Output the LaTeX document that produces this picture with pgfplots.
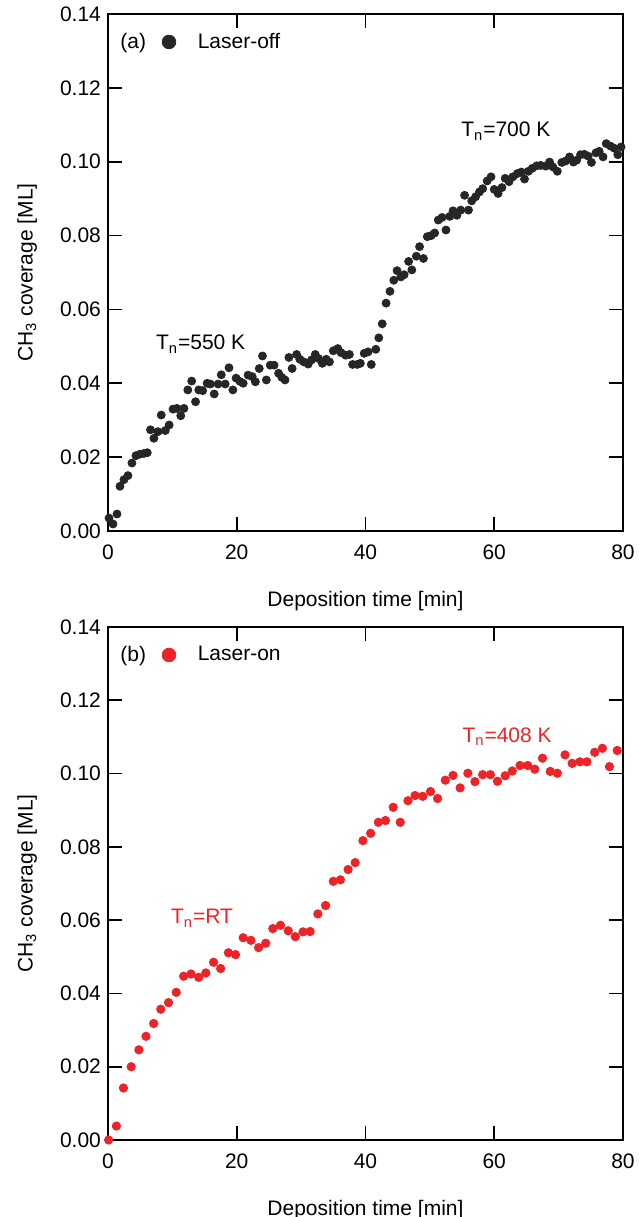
\documentclass[border=0pt]{standalone}
\usepackage{fontspec}
\setmainfont{Liberation Sans}
\usepackage{pgfplots}
\pgfplotsset{compat=1.18}
\definecolor{laserred}{RGB}{237,35,40}
\pgfplotsset{bigmarklegend/.style={legend image code/.code={\draw[##1, mark size=3.4pt] plot coordinates {(0pt,0pt)};}}}

\pgfplotstableread{
t v
0.16 0.0035
0.78 0.0019
1.40 0.0046
1.86 0.0121
2.48 0.0139
3.10 0.0150
3.72 0.0184
4.34 0.0204
4.96 0.0208
5.58 0.0210
6.10 0.0212
6.60 0.0274
7.13 0.0251
7.75 0.0269
8.27 0.0314
8.90 0.0272
9.50 0.0287
10.1 0.0330
10.7 0.0332
11.3 0.0312
11.8 0.0332
12.4 0.0382
13.0 0.0406
13.6 0.0350
14.1 0.0382
14.7 0.0380
15.4 0.0400
15.9 0.0398
16.5 0.0371
17.1 0.0398
17.6 0.0423
18.2 0.0398
18.8 0.0442
19.4 0.0382
19.9 0.0414
20.5 0.0405
21.0 0.0400
21.76 0.0422
22.4 0.0418
22.9 0.0404
23.5 0.0440
24.0 0.0474
24.6 0.0409
25.2 0.0449
25.8 0.0449
26.5 0.0427
27.0 0.0416
27.5 0.0409
28.1 0.0470
28.6 0.0440
29.3 0.0478
29.8 0.0465
30.4 0.0458
31.1 0.0452
31.6 0.0463
32.2 0.0478
32.7 0.0467
33.3 0.0454
33.9 0.0465
34.4 0.0458
35.0 0.0488
35.7 0.0494
36.2 0.0483
36.9 0.0476
37.5 0.0478
38.0 0.0451
38.7 0.0451
39.2 0.0454
39.8 0.0481
40.4 0.0485
40.9 0.0451
41.6 0.0492
42.07 0.0523
42.6 0.0561
43.2 0.0617
43.8 0.0649
44.4 0.0679
44.9 0.0705
45.5 0.0688
46.0 0.0694
46.7 0.0730
47.2 0.0707
47.9 0.0744
48.4 0.0770
49.0 0.0738
49.6 0.0797
50.2 0.0800
50.75 0.0807
51.3 0.0842
51.9 0.0849
52.5 0.0815
53.1 0.0852
53.6 0.0867
54.2 0.0855
54.8 0.0869
55.4 0.0909
56.0 0.0869
56.5 0.0894
57.1 0.0905
57.7 0.0918
58.2 0.0927
58.9 0.0948
59.5 0.0959
60.0 0.0925
60.6 0.0914
61.2 0.0930
61.7 0.0955
62.3 0.0946
62.9 0.0959
63.6 0.0968
64.2 0.0972
64.7 0.0953
65.3 0.0974
65.9 0.0982
66.6 0.0989
67.2 0.0990
68.0 0.0988
68.6 0.0999
69.1 0.0986
69.8 0.0974
70.5 0.0998
71.1 0.1002
71.7 0.1013
72.3 0.0999
72.8 0.1004
73.4 0.1019
74.0 0.1020
74.6 0.1015
75.1 0.0998
75.8 0.1024
76.3 0.1028
76.9 0.1013
77.4 0.1049
78.1 0.1042
78.7 0.1036
79.2 0.1019
79.7 0.1040
}\laseroff

\pgfplotstableread{
t v
0.1 0.0000
1.3 0.0038
2.4 0.0142
3.6 0.0200
4.8 0.0246
5.9 0.0283
7.1 0.0318
8.2 0.0357
9.4 0.0375
10.6 0.0403
11.75 0.0447
12.9 0.0453
14.1 0.0444
15.2 0.0456
16.4 0.0485
17.5 0.0468
18.7 0.0511
19.8 0.0506
21.0 0.0552
22.2 0.0545
23.4 0.0525
24.5 0.0537
25.6 0.0577
26.8 0.0586
28.0 0.0571
29.1 0.0555
30.3 0.0568
31.4 0.0569
32.6 0.0617
33.8 0.0640
35.0 0.0706
36.1 0.0710
37.3 0.0738
38.4 0.0757
39.6 0.0817
40.8 0.0837
42.0 0.0867
43.1 0.0872
44.3 0.0908
45.4 0.0867
46.6 0.0926
47.7 0.0940
48.9 0.0938
50.1 0.0951
51.2 0.0932
52.4 0.0982
53.6 0.0995
54.7 0.0961
55.9 0.1001
57.0 0.0978
58.2 0.0997
59.4 0.0997
60.5 0.0979
61.7 0.0994
62.8 0.1007
64.0 0.1022
65.2 0.1022
66.3 0.1012
67.5 0.1042
68.7 0.1006
69.8 0.1001
71.0 0.1051
72.1 0.1028
73.3 0.1032
74.4 0.1032
75.6 0.1058
76.8 0.1069
77.9 0.1019
79.1 0.1063
}\laseron

\begin{document}
\begin{tikzpicture}
\useasboundingbox (0pt,0pt) rectangle (319pt,608.5pt);
\pgfplotsset{
  myax/.style={
    scale only axis, width=257.5pt,
    xmin=0, xmax=80, ymin=0, ymax=0.14,
    xtick={0,20,40,60,80}, ytick={0,0.02,0.04,0.06,0.08,0.10,0.12,0.14},
    tick align=inside, major tick length=7pt,
    /pgf/number format/assume math mode=true,
    ticklabel style={font=\fontsize{10.5}{12}\selectfont},
    xticklabel style={yshift=-3.5pt},
    yticklabel style={/pgf/number format/.cd, fixed, fixed zerofill, precision=2},
    scaled y ticks=false,
    axis line style={line width=0.9pt},
    every tick/.style={line width=0.9pt, black},
    xlabel={Deposition time [min]},
    ylabel={CH\textsubscript{3} coverage [ML]},
    label style={font=\fontsize{10.5}{12}\selectfont},
    xlabel style={at={(axis description cs:0.5,0)}, anchor=north, yshift=-26.5pt},
    ylabel style={at={(axis description cs:-0.124,0.5)}, anchor=south},
    clip=false,
    legend style={draw=none, fill=none, inner sep=0pt, outer sep=0pt,
      at={(axis description cs:0,1)}, anchor=west, xshift=27.1pt, yshift=-14pt,
      font=\fontsize{10.5}{12}\selectfont,
      nodes={inner xsep=11pt, inner ysep=0pt}},
  }
}
\begin{axis}[myax, at={(54pt,343pt)}, anchor=south west, height=258.5pt]
\addplot[only marks, mark=*, mark size=2pt, draw=black!85, fill=black!85, bigmarklegend]
  table[x=t, y=v] {\laseroff};
\addlegendentry{Laser-off}
\node[anchor=west, inner sep=0pt, xshift=6pt, yshift=-14.5pt, font=\fontsize{10.5}{12}\selectfont] at (axis description cs:0,1) {(a)};
\node[font=\fontsize{10.5}{12}\selectfont] at (axis cs:14.4,0.0506) {T\textsubscript{n}=550 K};
\node[font=\fontsize{10.5}{12}\selectfont] at (axis cs:61.8,0.1083) {T\textsubscript{n}=700 K};
\end{axis}
\begin{axis}[myax, at={(54pt,38.5pt)}, anchor=south west, height=256.5pt]
\addplot[only marks, mark=*, mark size=2.1pt, draw=laserred, fill=laserred, bigmarklegend]
  table[x=t, y=v] {\laseron};
\addlegendentry{Laser-on}
\node[anchor=west, inner sep=0pt, xshift=6pt, yshift=-14.5pt, font=\fontsize{10.5}{12}\selectfont] at (axis description cs:0,1) {(b)};
\node[text=laserred, font=\fontsize{10.5}{12}\selectfont] at (axis cs:14.6,0.0605) {T\textsubscript{n}=RT};
\node[text=laserred, font=\fontsize{10.5}{12}\selectfont] at (axis cs:62.0,0.1100) {T\textsubscript{n}=408 K};
\end{axis}
\end{tikzpicture}
\end{document}
